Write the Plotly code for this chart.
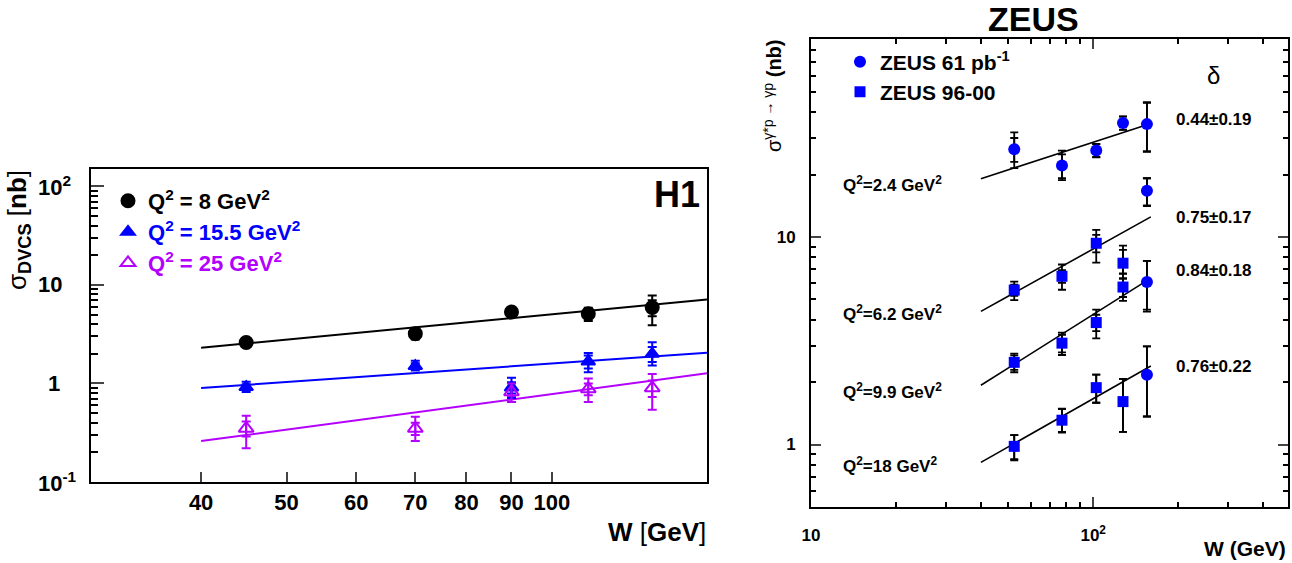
import plotly.graph_objects as go
import math

FIG_W, FIG_H = 1292, 563
FONT = "Liberation Sans"


def px(x):
    return x / FIG_W


def py(y):
    return 1 - y / FIG_H


# ---------------- H1 data ----------------
h1_W = [45, 70, 90, 110, 130]
h1_q8 = [2.6, 3.2, 5.3, 5.1, 5.9]
h1_q8_up = [0.25, 0.45, 0.35, 0.75, 1.9]
h1_q8_dn = [0.25, 0.4, 0.35, 0.8, 2.0]
h1_q8_stat = [0.15, 0.25, 0.2, 0.5, 1.1]
h1_q15 = [0.92, 1.5, 0.91, 1.67, 2.0]
h1_q15_up = [0.12, 0.2, 0.23, 0.37, 0.62]
h1_q15_dn = [0.1, 0.15, 0.2, 0.37, 0.48]
h1_q15_stat = [0.06, 0.1, 0.12, 0.25, 0.35]
h1_q25 = [0.35, 0.35, 0.82, 0.88, 0.90]
h1_q25_up = [0.12, 0.11, 0.18, 0.24, 0.35]
h1_q25_dn = [0.13, 0.09, 0.17, 0.23, 0.36]
h1_q25_stat = [0.06, 0.05, 0.08, 0.12, 0.17]
h1_fit_W = [40, 150]
h1_fit_q8 = [2.3, 7.1]
h1_fit_q15 = [0.90, 2.05]
h1_fit_q25 = [0.26, 1.27]
h1_xticks = [40, 50, 60, 70, 80, 90, 100]
h1_yticks = [0.1, 1, 10, 100]
h1_ytick_text = ["10<sup>-1</sup>", "1", "10", "10<sup>2</sup>"]
h1_labels = ["Q<sup>2</sup> = 8 GeV<sup>2</sup>", "Q<sup>2</sup> = 15.5 GeV<sup>2</sup>",
             "Q<sup>2</sup> = 25 GeV<sup>2</sup>"]

# ---------------- ZEUS data ----------------
z_W = [52.5, 77.5, 102.5, 127.5, 155]
z_q24 = [26.5, 22.1, 26.1, 35.4, 35.0]
z_q24_up = [5.4, 4.0, 2.0, 2.7, 9.6]
z_q24_dn = [5.0, 3.3, 1.8, 2.5, 9.1]
z_q24_stat = [3.5, 2.9, 1.9, 2.6, 9.3]
z_q62 = [5.55, 6.47, 9.33, 7.48, 16.7]
z_q62_up = [0.55, 0.9, 1.5, 1.6, 2.5]
z_q62_dn = [0.58, 0.9, 1.8, 0.8, 2.6]
z_q62_stat = [0.35, 0.45, 0.9, 1.2, 2.5]
z_q99 = [2.49, 3.08, 3.87, 5.74, 6.07]
z_q99_up = [0.25, 0.38, 0.6, 0.9, 1.6]
z_q99_dn = [0.26, 0.38, 0.62, 0.82, 1.7]
z_q99_stat = [0.2, 0.3, 0.35, 0.6, 1.6]
z_q18 = [0.98, 1.31, 1.88, 1.61, 2.17]
z_q18_up = [0.13, 0.18, 0.29, 0.46, 0.8]
z_q18_dn = [0.14, 0.16, 0.29, 0.46, 0.81]
z_q18_stat = [0.13, 0.17, 0.29, 0.46, 0.8]
z_fit_W = [40, 160]
z_fit_q24 = [19.1, 35.2]
z_fit_q62 = [4.38, 12.5]
z_fit_q99 = [1.93, 6.34]
z_fit_q18 = [0.82, 2.39]
z_delta = ["0.44±0.19", "0.75±0.17", "0.84±0.18", "0.76±0.22"]
z_q2_labels = ["Q<sup>2</sup>=2.4 GeV<sup>2</sup>", "Q<sup>2</sup>=6.2 GeV<sup>2</sup>",
               "Q<sup>2</sup>=9.9 GeV<sup>2</sup>", "Q<sup>2</sup>=18 GeV<sup>2</sup>"]

BLACK = "#000000"
BLUE = "#0000ff"
PURPLE = "#b300ff"

fig = go.Figure()

# ---------------- H1 traces ----------------
h1_series = [
    (h1_q8, h1_q8_up, h1_q8_dn, h1_q8_stat, h1_fit_q8, BLACK, "circle", 13, h1_labels[0], "legend"),
    (h1_q15, h1_q15_up, h1_q15_dn, h1_q15_stat, h1_fit_q15, BLUE, "triangle-up", 12, h1_labels[1], "legend2"),
    (h1_q25, h1_q25_up, h1_q25_dn, h1_q25_stat, h1_fit_q25, PURPLE, "triangle-up-open", 13, h1_labels[2], "legend3"),
]
for y, up, dn, st, fit, col, sym, sz, name, leg in h1_series:
    fig.add_trace(go.Scatter(x=h1_fit_W, y=fit, mode="lines", line=dict(color=col, width=2),
                             showlegend=False, xaxis="x", yaxis="y", hoverinfo="skip"))
for y, up, dn, st, fit, col, sym, sz, name, leg in h1_series:
    fig.add_trace(go.Scatter(x=h1_W, y=y, mode="markers", marker=dict(size=1, color="rgba(0,0,0,0)"),
                             error_y=dict(type="data", array=st, arrayminus=st, color=col, thickness=2, width=4.5),
                             showlegend=False, xaxis="x", yaxis="y"))
for y, up, dn, st, fit, col, sym, sz, name, leg in h1_series:
    fig.add_trace(go.Scatter(x=h1_W, y=y, mode="markers", name=name, legend=leg,
                             marker=dict(size=sz, color=col, symbol=sym, line=dict(color=col, width=2)),
                             error_y=dict(type="data", array=up, arrayminus=dn, color=col, thickness=2, width=4.5),
                             xaxis="x", yaxis="y"))

# ---------------- ZEUS traces ----------------
z_rows = [
    (z_q24, z_q24_up, z_q24_dn, z_q24_stat, z_fit_q24),
    (z_q62, z_q62_up, z_q62_dn, z_q62_stat, z_fit_q62),
    (z_q99, z_q99_up, z_q99_dn, z_q99_stat, z_fit_q99),
    (z_q18, z_q18_up, z_q18_dn, z_q18_stat, z_fit_q18),
]
for y, up, dn, st, fit in z_rows:
    fig.add_trace(go.Scatter(x=z_fit_W, y=fit, mode="lines", line=dict(color=BLACK, width=1.6),
                             showlegend=False, xaxis="x2", yaxis="y2", hoverinfo="skip"))
for y, up, dn, st, fit in z_rows:
    fig.add_trace(go.Scatter(x=z_W, y=y, mode="markers", marker=dict(size=1, color="rgba(0,0,0,0)"),
                             error_y=dict(type="data", array=st, arrayminus=st, color=BLACK, thickness=1.8, width=4),
                             showlegend=False, xaxis="x2", yaxis="y2"))

# circles: all of Q2=2.4 plus the highest-W point of the other rows
circ_x = list(z_W) + [z_W[4]] * 3
circ_y = list(z_q24) + [r[0][4] for r in z_rows[1:]]
circ_up = list(z_q24_up) + [r[1][4] for r in z_rows[1:]]
circ_dn = list(z_q24_dn) + [r[2][4] for r in z_rows[1:]]
sq_x = z_W[:4] * 3
sq_y = [v for r in z_rows[1:] for v in r[0][:4]]
sq_up = [v for r in z_rows[1:] for v in r[1][:4]]
sq_dn = [v for r in z_rows[1:] for v in r[2][:4]]

fig.add_trace(go.Scatter(x=circ_x, y=circ_y, mode="markers", name="ZEUS 61 pb<sup>-1</sup>", legend="legend4",
                         marker=dict(size=12, color=BLUE, symbol="circle"),
                         error_y=dict(type="data", array=circ_up, arrayminus=circ_dn, color=BLACK,
                                      thickness=1.8, width=4),
                         xaxis="x2", yaxis="y2"))
fig.add_trace(go.Scatter(x=sq_x, y=sq_y, mode="markers", name="ZEUS 96-00", legend="legend5",
                         marker=dict(size=11, color=BLUE, symbol="square"),
                         error_y=dict(type="data", array=sq_up, arrayminus=sq_dn, color=BLACK,
                                      thickness=1.8, width=4),
                         xaxis="x2", yaxis="y2"))

# ---------------- axes ----------------
h1_minor_y = [k * 10 ** e for e in range(-1, 2) for k in range(2, 10)]
z_minor_y = [0.6, 0.7, 0.8, 0.9] + [k for k in range(2, 10)] + [10 * k for k in range(2, 9)]
z_minor_x = [10 * k for k in range(2, 10)] + [100 * k for k in range(2, 5)]

tickfont_h1 = dict(family=FONT, size=22, color="black", weight="bold")
tickfont_z = dict(family=FONT, size=17, color="black", weight="bold")

fig.update_layout(
    width=FIG_W, height=FIG_H, autosize=False,
    margin=dict(l=0, r=0, t=0, b=0, autoexpand=False),
    paper_bgcolor="white", plot_bgcolor="white",
    xaxis=dict(domain=[px(91), px(707)], type="log", range=[math.log10(30), math.log10(150)],
               anchor="y", tickmode="array", tickvals=h1_xticks, automargin=False,
               ticktext=[str(v) for v in h1_xticks], ticks="inside", ticklen=10, tickwidth=2,
               showline=True, linewidth=2, linecolor="black", mirror=True, showgrid=False,
               zeroline=False, tickfont=tickfont_h1),
    yaxis=dict(domain=[py(482), py(169)], type="log", range=[-1, math.log10(150)],
               anchor="x", tickmode="array", tickvals=h1_yticks, showticklabels=False, automargin=False,
               ticks="inside", ticklen=13, tickwidth=2,
               minor=dict(tickmode="array", tickvals=h1_minor_y, ticks="inside", ticklen=7,
                          tickwidth=1.5, tickcolor="black", showgrid=False),
               showline=True, linewidth=2, linecolor="black", mirror=True, showgrid=False,
               zeroline=False),
    xaxis2=dict(domain=[px(811), px(1288)], type="log", range=[1, math.log10(490)],
                anchor="y2", tickmode="array", tickvals=[10, 100], ticktext=["10", "10<sup>2</sup>"],
                ticks="inside", ticklen=10, tickwidth=1.5, automargin=False,
                minor=dict(tickmode="array", tickvals=z_minor_x, ticks="inside", ticklen=5,
                           tickwidth=1.5, tickcolor="black", showgrid=False),
                showline=True, linewidth=2, linecolor="black", mirror="ticks", showgrid=False,
                zeroline=False, tickfont=tickfont_z, ticklabelstandoff=12),
    yaxis2=dict(domain=[py(507), py(39)], type="log", range=[math.log10(0.5), math.log10(90)],
                anchor="x2", tickmode="array", tickvals=[1, 10], ticktext=["1", "10"],
                ticks="inside", ticklen=10, tickwidth=1.5, automargin=False,
                minor=dict(tickmode="array", tickvals=z_minor_y, ticks="inside", ticklen=5,
                           tickwidth=1.5, tickcolor="black", showgrid=False),
                showline=True, linewidth=2, linecolor="black", mirror="ticks", showgrid=False,
                zeroline=False, tickfont=tickfont_z, ticklabelstandoff=10),
)

# legends
def leg(x, y, size, color):
    return dict(x=px(x), y=py(y), xanchor="left", yanchor="middle", bgcolor="rgba(0,0,0,0)",
                borderwidth=0, font=dict(family=FONT, size=size, color=color, weight="bold"),
                itemwidth=30, tracegroupgap=0)

fig.update_layout(
    legend=leg(108, 201, 22, BLACK),
    legend2=leg(108, 232, 22, BLUE),
    legend3=leg(108, 263, 22, PURPLE),
    legend4=leg(840, 62, 21, BLACK),
    legend5=leg(840, 92, 21, BLACK),
)

ann = []
# H1 y tick labels
for v, t in zip(h1_yticks, h1_ytick_text):
    ann.append(dict(x=px(36 if v != 1 else 46), y=math.log10(v), xref="paper", yref="y", text=t,
                    xanchor="left", yanchor="middle", showarrow=False, font=tickfont_h1))
# H1 titles
ann.append(dict(x=px(18), y=py(168), xref="paper", yref="paper", textangle=-90,
                text="σ<sub><b>DVCS</b></sub> [<b>nb</b>]", xanchor="center", yanchor="top",
                showarrow=False, font=dict(family=FONT, size=26, color="black")))
ann.append(dict(x=px(708), y=py(532), xref="paper", yref="paper",
                text="<b>W</b> [<b>GeV</b>]", xanchor="right", yanchor="middle",
                showarrow=False, font=dict(family=FONT, size=26, color="black")))
ann.append(dict(x=px(702), y=py(195), xref="paper", yref="paper", text="<b>H1</b>",
                xanchor="right", yanchor="middle", showarrow=False,
                font=dict(family=FONT, size=36, color="black")))
# ZEUS titles
ann.append(dict(x=px(1033), y=py(19), xref="paper", yref="paper", text="<b>ZEUS</b>",
                xanchor="center", yanchor="middle", showarrow=False,
                font=dict(family=FONT, size=34, color="black")))
ann.append(dict(x=px(772), y=py(38), xref="paper", yref="paper", textangle=-90,
                text="σ<sup>γ*p → γp</sup> <b>(nb)</b>", xanchor="center", yanchor="top",
                showarrow=False, font=dict(family=FONT, size=20, color="black")))
ann.append(dict(x=px(1288), y=py(548), xref="paper", yref="paper", text="<b>W (GeV)</b>",
                xanchor="right", yanchor="middle", showarrow=False,
                font=dict(family=FONT, size=21, color="black")))
ann.append(dict(x=px(1213), y=py(75), xref="paper", yref="paper", text="δ",
                xanchor="center", yanchor="middle", showarrow=False,
                font=dict(family=FONT, size=24, color="black")))
for t, yy in zip(z_delta, [120, 217, 270, 366]):
    ann.append(dict(x=px(1214), y=py(yy), xref="paper", yref="paper", text="<b>" + t + "</b>",
                    xanchor="center", yanchor="middle", showarrow=False,
                    font=dict(family=FONT, size=17, color="black")))
for t, yy in zip(z_q2_labels, [184, 313, 391, 465]):
    ann.append(dict(x=px(841), y=py(yy), xref="paper", yref="paper", text="<b>" + t + "</b>",
                    xanchor="left", yanchor="middle", showarrow=False,
                    font=dict(family=FONT, size=17, color="black")))

fig.update_layout(annotations=ann)
fig.write_html("out.html")
